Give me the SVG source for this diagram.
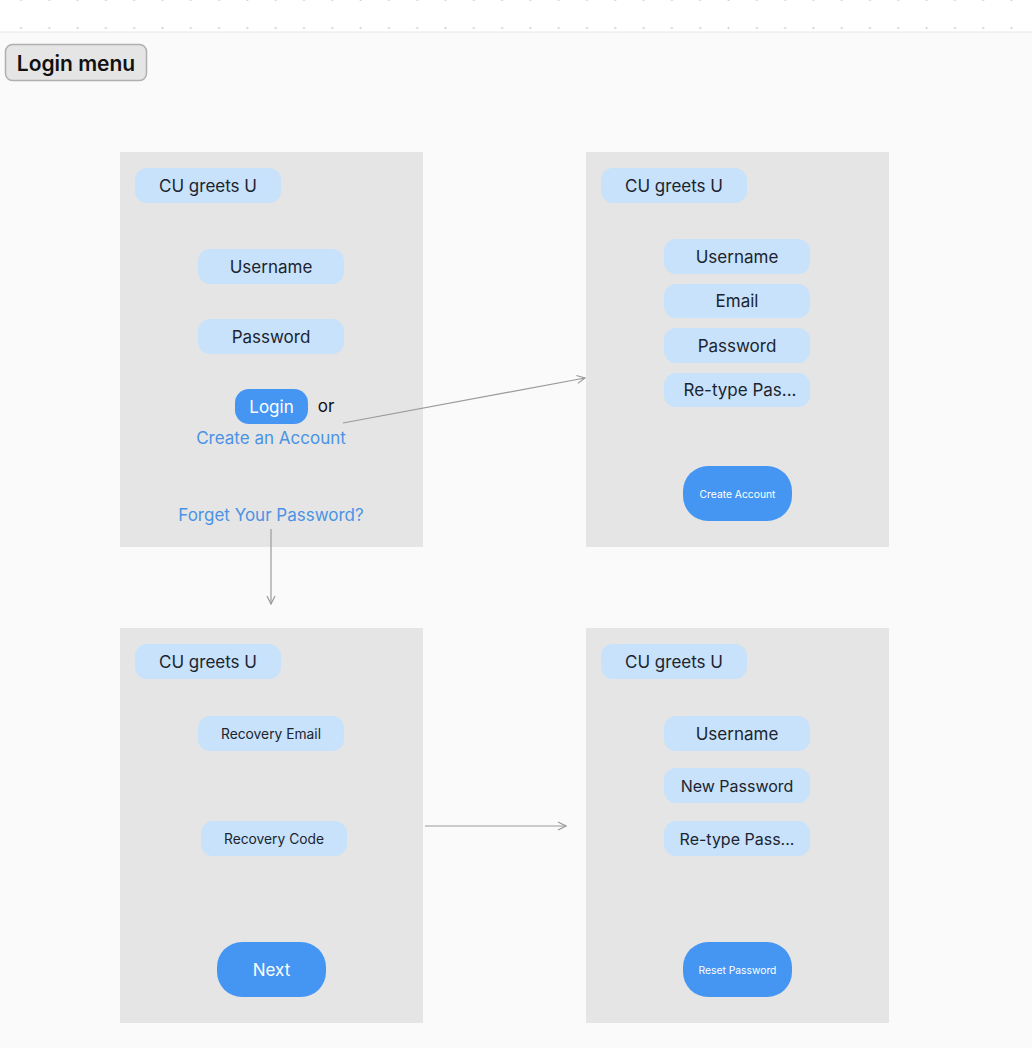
<svg xmlns="http://www.w3.org/2000/svg" width="1032" height="1048" viewBox="0 0 1032 1048">
<defs>
<pattern id="dots" x="0" y="0" width="28.3" height="28" patternUnits="userSpaceOnUse">
<circle cx="21" cy="0" r="1.1" fill="#d0d0d0"/>
<circle cx="21" cy="28" r="1.1" fill="#d0d0d0"/>
</pattern>
<marker id="arr" viewBox="0 0 10 10" refX="9" refY="5" markerWidth="10" markerHeight="10" markerUnits="userSpaceOnUse" orient="auto">
<path d="M1,1 L9,5 L1,9" fill="none" stroke="#9a9a9a" stroke-width="1.2"/>
</marker>
</defs>
<style>
.panel{fill:#e5e5e5}
.pill{fill:#c7e2fa}
.btn{fill:#4596f2}
.t{font-family:Inter,"Liberation Sans",sans-serif;text-anchor:middle;dominant-baseline:central}
.dark{fill:#1c2430;font-size:17px}
.dark16{fill:#1c2430;font-size:16px}
.small{fill:#1c2430;font-size:13.8px}
.white{fill:#ffffff;font-size:17px}
.wsmall{fill:#ffffff;font-size:10.3px}
.link{fill:#4a93e4;font-size:17px}
.conn{stroke:#9a9a9a;stroke-width:1.2;fill:none}
</style>
<rect width="1032" height="1048" fill="#fafafa"/>
<rect width="1032" height="32" fill="#ffffff"/>
<rect width="1032" height="31" fill="url(#dots)"/>
<line x1="0" y1="32" x2="1032" y2="32" stroke="#e6e6e6" stroke-width="1"/>

<g id="title">
<rect x="5.5" y="44.5" width="141" height="36" rx="7" fill="#e5e5e5" stroke="#b0b0b0" stroke-width="1.5"/>
<text class="t" x="76" y="63" style="font-size:21px;font-weight:600;fill:#111">Login menu</text>
</g>

<g id="panel-login">
<rect class="panel" x="120" y="152" width="303" height="395"/>
<rect class="pill" x="135" y="168" width="146" height="35" rx="12"/>
<text class="t dark" x="208" y="185.5">CU greets U</text>
<rect class="pill" x="198" y="249" width="146" height="35" rx="12"/>
<text class="t dark" x="271" y="266.5">Username</text>
<rect class="pill" x="198" y="319" width="146" height="35" rx="12"/>
<text class="t dark" x="271" y="336.5">Password</text>
<rect class="btn" x="235" y="389" width="73" height="35" rx="14"/>
<text class="t white" x="271.5" y="406.5">Login</text>
<text class="t" x="326" y="405.5" style="font-size:17px;fill:#111">or</text>
<text class="t link" x="271" y="437.5">Create an Account</text>
<text class="t link" x="271" y="514.5">Forget Your Password?</text>
</g>

<g id="panel-create">
<rect class="panel" x="586" y="152" width="303" height="395"/>
<rect class="pill" x="601" y="168" width="146" height="35" rx="12"/>
<text class="t dark" x="674" y="185.5">CU greets U</text>
<rect class="pill" x="664" y="239" width="146" height="35" rx="12"/>
<text class="t dark" x="737" y="256.5">Username</text>
<rect class="pill" x="664" y="284" width="146" height="34" rx="12"/>
<text class="t dark" x="737" y="301">Email</text>
<rect class="pill" x="664" y="328" width="146" height="35" rx="12"/>
<text class="t dark" x="737" y="345.5">Password</text>
<rect class="pill" x="664" y="373" width="146" height="34" rx="12"/>
<text class="t dark" x="740" y="390">Re-type Pas...</text>
<rect class="btn" x="683" y="466" width="109" height="55" rx="25"/>
<text class="t wsmall" x="737.5" y="493.5">Create Account</text>
</g>

<g id="panel-recovery">
<rect class="panel" x="120" y="628" width="303" height="395"/>
<rect class="pill" x="135" y="644" width="146" height="35" rx="12"/>
<text class="t dark" x="208" y="661.5">CU greets U</text>
<rect class="pill" x="198" y="716" width="146" height="35" rx="12"/>
<text class="t small" x="271" y="733.5">Recovery Email</text>
<rect class="pill" x="201" y="821" width="146" height="35" rx="12"/>
<text class="t small" x="274" y="838.5">Recovery Code</text>
<rect class="btn" x="217" y="942" width="109" height="55" rx="25"/>
<text class="t white" x="271.5" y="969.5">Next</text>
</g>

<g id="panel-reset">
<rect class="panel" x="586" y="628" width="303" height="395"/>
<rect class="pill" x="601" y="644" width="146" height="35" rx="12"/>
<text class="t dark" x="674" y="661.5">CU greets U</text>
<rect class="pill" x="664" y="716" width="146" height="35" rx="12"/>
<text class="t dark" x="737" y="733.5">Username</text>
<rect class="pill" x="664" y="768" width="146" height="35" rx="12"/>
<text class="t dark16" x="737" y="785.5">New Password</text>
<rect class="pill" x="664" y="821" width="146" height="35" rx="12"/>
<text class="t dark16" x="737" y="838.5">Re-type Pass...</text>
<rect class="btn" x="683" y="942" width="109" height="55" rx="25"/>
<text class="t wsmall" x="737.5" y="969.5">Reset Password</text>
</g>

<g id="connectors">
<line class="conn" x1="343" y1="423" x2="585" y2="378" marker-end="url(#arr)"/>
<line class="conn" x1="271" y1="529" x2="271" y2="604" marker-end="url(#arr)"/>
<line class="conn" x1="425" y1="826" x2="566" y2="826" marker-end="url(#arr)"/>
</g>
</svg>
